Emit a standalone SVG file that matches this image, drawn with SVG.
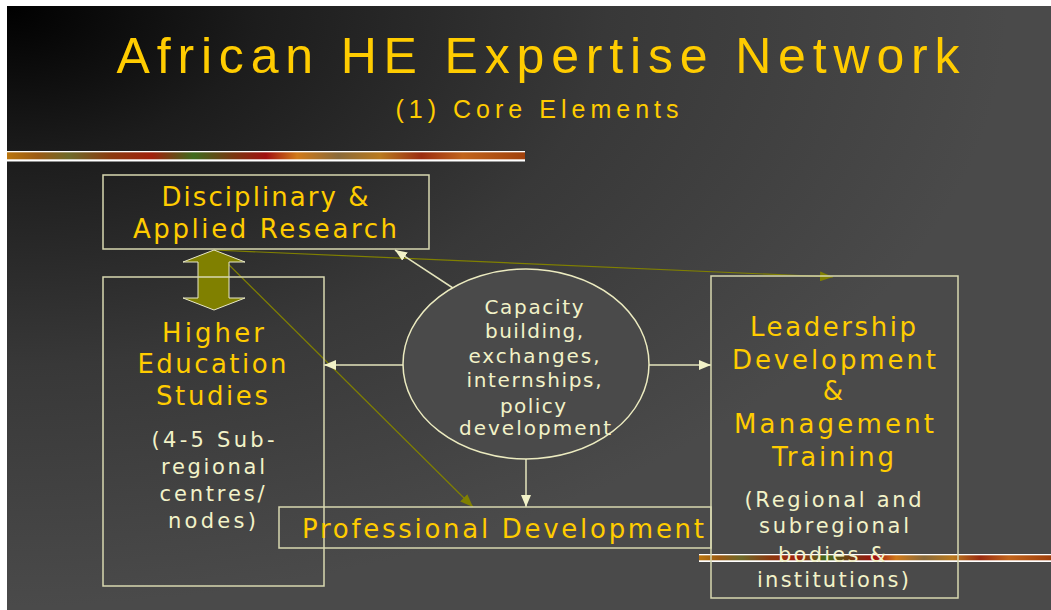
<svg xmlns="http://www.w3.org/2000/svg" width="1051" height="610" viewBox="0 0 1051 610">
<defs>
<radialGradient id="bg" gradientUnits="userSpaceOnUse" cx="7" cy="6" r="1000" gradientTransform="translate(7 6) scale(1 0.6) translate(-7 -6)">
<stop offset="0" stop-color="#000000"/>
<stop offset="0.25" stop-color="#1c1c1c"/>
<stop offset="0.6" stop-color="#383838"/>
<stop offset="1" stop-color="#4a4a4a"/>
</radialGradient>
<linearGradient id="strip" x1="0" y1="0" x2="1" y2="0">
<stop offset="0" stop-color="#b8740e"/>
<stop offset="0.06" stop-color="#9a5a14"/>
<stop offset="0.12" stop-color="#6e6a2a"/>
<stop offset="0.2" stop-color="#8a3a10"/>
<stop offset="0.28" stop-color="#a0200c"/>
<stop offset="0.36" stop-color="#3e6a1e"/>
<stop offset="0.44" stop-color="#7a3410"/>
<stop offset="0.5" stop-color="#a01010"/>
<stop offset="0.56" stop-color="#d07a1a"/>
<stop offset="0.64" stop-color="#8a6a3a"/>
<stop offset="0.72" stop-color="#b87a20"/>
<stop offset="0.8" stop-color="#9a2c10"/>
<stop offset="0.88" stop-color="#c0641c"/>
<stop offset="1" stop-color="#a0400c"/>
</linearGradient>
<marker id="ac" viewBox="0 0 12 10" refX="12" refY="5" markerWidth="12" markerHeight="10" orient="auto" markerUnits="userSpaceOnUse">
<path d="M0,0 L12,5 L0,10 z" fill="#f2f2c8"/>
</marker>
<marker id="ao" viewBox="0 0 13 10" refX="13" refY="5" markerWidth="13" markerHeight="10" orient="auto" markerUnits="userSpaceOnUse">
<path d="M0,0 L13,5 L0,10 z" fill="#808000"/>
</marker>
</defs>
<style>
.box{fill:none;stroke:#d8d8b0;stroke-width:1.5}
.hd{font-family:"DejaVu Sans",Verdana,sans-serif;font-size:26px;fill:#ffcc00;text-anchor:middle}
.sub{font-family:"DejaVu Sans",Verdana,sans-serif;font-size:21px;fill:#f2f2c8;text-anchor:middle}
.el{font-family:"DejaVu Sans",Verdana,sans-serif;font-size:20px;fill:#f2f2c8;text-anchor:middle}
.cl{stroke:#e4e4bc;stroke-width:1.5;fill:none}
.ol{stroke:#808000;stroke-width:1.2;fill:none}
.ttl{font-family:"Liberation Sans",Arial,sans-serif;fill:#ffcc00;text-anchor:middle}
</style>
<rect x="0" y="0" width="1051" height="610" fill="#ffffff"/>
<rect x="7" y="6" width="1044" height="604" fill="url(#bg)"/>
<g id="strips">
<rect x="7" y="151" width="518" height="10.5" fill="#ffffff"/>
<rect x="7" y="152.3" width="518" height="7" fill="url(#strip)"/>
<rect x="699" y="554" width="352" height="8" fill="#ffffff"/>
<rect x="699" y="555.3" width="352" height="5" fill="url(#strip)"/>
</g>
<g id="title">
<text class="ttl" x="538" y="73" font-size="50" textLength="843" lengthAdjust="spacing">African HE Expertise Network</text>
<text class="ttl" x="537" y="118" font-size="25" textLength="283" lengthAdjust="spacing">(1) Core Elements</text>
</g>
<g id="connectors">
<line class="ol" x1="214" y1="250" x2="473" y2="507" marker-end="url(#ao)"/>
<line class="ol" x1="214" y1="250" x2="833" y2="277" marker-end="url(#ao)"/>
<line class="cl" x1="456" y1="290" x2="395" y2="250" marker-end="url(#ac)"/>
<line class="cl" x1="403" y1="365" x2="324" y2="365" marker-end="url(#ac)"/>
<line class="cl" x1="649" y1="365" x2="711" y2="365" marker-end="url(#ac)"/>
<line class="cl" x1="526" y1="459" x2="526" y2="507" marker-end="url(#ac)"/>
<polygon points="214,250 245,262 229,262 229,298 245,298 214,310 183,298 198,298 198,262 183,262" fill="#808000" stroke="#e8e8c8" stroke-width="1"/>
</g>
<g id="node-research">
<rect class="box" x="103" y="175" width="326" height="74"/>
<text class="hd" x="265" y="206" textLength="207" lengthAdjust="spacing">Disciplinary &amp;</text>
<text class="hd" x="265" y="238" textLength="264" lengthAdjust="spacing">Applied Research</text>
</g>
<g id="node-hes">
<rect class="box" x="103" y="277" width="221" height="309"/>
<text class="hd" x="213" y="342" textLength="102" lengthAdjust="spacing">Higher</text>
<text class="hd" x="212" y="373" textLength="149" lengthAdjust="spacing">Education</text>
<text class="hd" x="212" y="405" textLength="112" lengthAdjust="spacing">Studies</text>
<text class="sub" x="213" y="447" textLength="123" lengthAdjust="spacing">(4-5 Sub-</text>
<text class="sub" x="213" y="474" textLength="104" lengthAdjust="spacing">regional</text>
<text class="sub" x="212" y="501" textLength="105" lengthAdjust="spacing">centres/</text>
<text class="sub" x="212" y="528" textLength="88" lengthAdjust="spacing">nodes)</text>
</g>
<g id="node-capacity">
<ellipse cx="526" cy="364" rx="123" ry="95" fill="#4a4a4a" stroke="#ecebc0" stroke-width="1.5"/>
<text class="el" x="534" y="314" textLength="99" lengthAdjust="spacing">Capacity</text>
<text class="el" x="534" y="338" textLength="98" lengthAdjust="spacing">building,</text>
<text class="el" x="534" y="363" textLength="131" lengthAdjust="spacing">exchanges,</text>
<text class="el" x="534" y="387" textLength="135" lengthAdjust="spacing">internships,</text>
<text class="el" x="533" y="413" textLength="66" lengthAdjust="spacing">policy</text>
<text class="el" x="535" y="435" textLength="152" lengthAdjust="spacing">development</text>
</g>
<g id="node-pd">
<rect class="box" x="279" y="507" width="432" height="41"/>
<text class="hd" x="503" y="538" textLength="402" lengthAdjust="spacing">Professional Development</text>
</g>
<g id="node-leadership">
<rect class="box" x="711" y="276" width="247" height="322"/>
<text class="hd" x="833" y="336" textLength="166" lengthAdjust="spacing">Leadership</text>
<text class="hd" x="834" y="369" textLength="204" lengthAdjust="spacing">Development</text>
<text class="hd" x="833" y="400" textLength="20" lengthAdjust="spacing">&amp;</text>
<text class="hd" x="834" y="433" textLength="200" lengthAdjust="spacing">Management</text>
<text class="hd" x="833" y="466" textLength="122" lengthAdjust="spacing">Training</text>
<text class="sub" x="833" y="507" textLength="177" lengthAdjust="spacing">(Regional and</text>
<text class="sub" x="834" y="533" textLength="150" lengthAdjust="spacing">subregional</text>
<text class="sub" x="832" y="562" textLength="108" lengthAdjust="spacing">bodies &amp;</text>
<text class="sub" x="833" y="587" textLength="152" lengthAdjust="spacing">institutions)</text>
</g>
</svg>
